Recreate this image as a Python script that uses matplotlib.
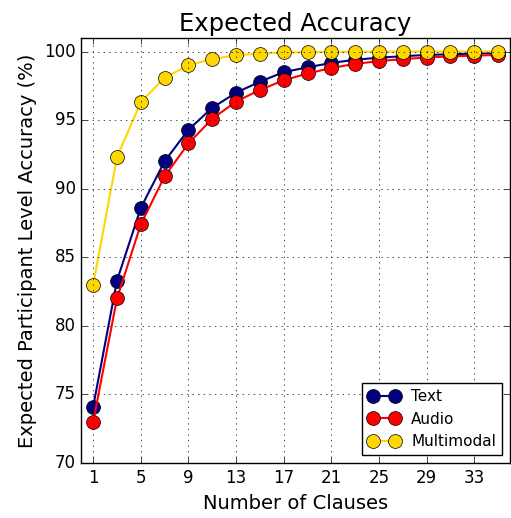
import matplotlib
matplotlib.use("Agg")
import matplotlib.pyplot as plt

plt.style.use("classic")

# Datos
clausulas = [1, 3, 5, 7, 9, 11, 13, 15, 17, 19, 21, 23, 25, 27, 29, 31, 33, 35]
texto = [74.1, 83.3, 88.6, 92.0, 94.3, 95.9, 97.0, 97.8, 98.5, 98.85,
         99.17, 99.4, 99.55, 99.66, 99.75, 99.8, 99.85, 99.9]
audio = [73.0, 82.0, 87.4, 90.9, 93.3, 95.1, 96.35, 97.2, 97.9, 98.4,
         98.8, 99.1, 99.3, 99.45, 99.56, 99.65, 99.7, 99.75]
multimodal = [83.0, 92.3, 96.3, 98.1, 99.0, 99.45, 99.73, 99.85, 99.93, 99.95,
              99.97, 99.98, 99.99, 99.99, 100.0, 100.0, 100.0, 100.0]
ticks_x = [1, 5, 9, 13, 17, 21, 25, 29, 33]

fig = plt.figure(figsize=(5.11, 5.18), dpi=100, facecolor="white")
ax = fig.add_axes([0.159, 0.106, 0.839, 0.821])

ax.plot(clausulas, texto, "-o", color="navy", markerfacecolor="navy",
        markeredgecolor="black", markersize=10, linewidth=1.5, label="Text")
ax.plot(clausulas, audio, "-o", color="red", markerfacecolor="red",
        markeredgecolor="black", markersize=10, linewidth=1.5, label="Audio")
ax.plot(clausulas, multimodal, "-o", color="gold", markerfacecolor="gold",
        markeredgecolor="black", markersize=10, linewidth=1.5, label="Multimodal")

ax.set_xlim(0, 36)
ax.set_ylim(70, 101)
ax.set_xticks(ticks_x)
ax.set_yticks([70, 75, 80, 85, 90, 95, 100])
ax.tick_params(labelsize=12)
ax.grid(True, linestyle=":", color="black")

ax.set_title("Expected Accuracy", fontsize=17.5, y=1.0)
ax.set_xlabel("Number of Clauses", fontsize=14)
ax.set_ylabel("Expected Participant Level Accuracy (%)", fontsize=14)
ax.legend(loc="lower right", fontsize=11, numpoints=2)

fig.savefig("out.png", dpi=100, facecolor="white")
